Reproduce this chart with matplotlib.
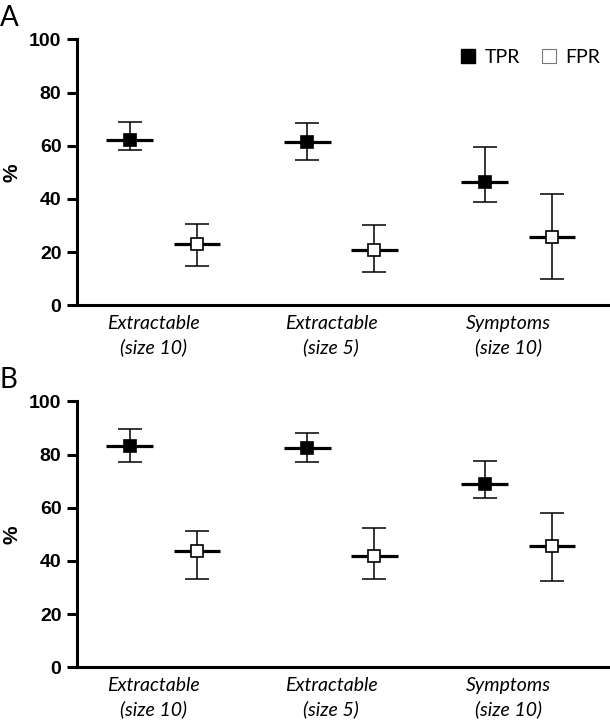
import matplotlib.pyplot as plt
from matplotlib.lines import Line2D
import numpy as np

categories = ["Extractable\n(size 10)", "Extractable\n(size 5)", "Symptoms\n(size 10)"]

# panel A
tpr_a = [62.3, 61.5, 46.5]
tpr_a_lo = [58.5, 54.8, 39.0]
tpr_a_hi = [68.9, 68.7, 59.6]
fpr_a = [22.9, 20.8, 25.6]
fpr_a_lo = [14.9, 12.4, 9.9]
fpr_a_hi = [30.5, 30.2, 41.7]

# panel B
tpr_b = [83.1, 82.6, 68.9]
tpr_b_lo = [77.3, 77.3, 63.5]
tpr_b_hi = [89.6, 88.0, 77.4]
fpr_b = [43.6, 42.0, 45.5]
fpr_b_lo = [33.1, 33.1, 32.5]
fpr_b_hi = [51.1, 52.5, 58.1]

panels = [
    ("A", tpr_a, tpr_a_lo, tpr_a_hi, fpr_a, fpr_a_lo, fpr_a_hi),
    ("B", tpr_b, tpr_b_lo, tpr_b_hi, fpr_b, fpr_b_lo, fpr_b_hi),
]

fig = plt.figure(figsize=(6.1, 7.24), dpi=100)
rects = [[0.1257, 0.5783, 0.8743, 0.3674], [0.1257, 0.0783, 0.8743, 0.3674]]
letter_y = [0.993, 0.493]

x = np.arange(len(categories))
off_tpr = -0.135
off_fpr = 0.243
half_mean = 0.132


def draw_group(ax, xs, mean, lo, hi, face):
    mean = np.array(mean)
    yerr = [mean - np.array(lo), np.array(hi) - mean]
    ax.errorbar(xs, mean, yerr=yerr, fmt="none", ecolor="black", elinewidth=1.1,
                capsize=8.5, capthick=1.1, zorder=2)
    ax.hlines(mean, xs - half_mean, xs + half_mean, color="black", lw=2.3, zorder=3)
    ax.plot(xs, mean, "s", ms=9, mfc=face, mec="black", mew=1.2, ls="none", zorder=4)


for (letter, tpr, tlo, thi, fpr, flo, fhi), r, ly in zip(panels, rects, letter_y):
    ax = fig.add_axes(r)
    draw_group(ax, x + off_tpr, tpr, tlo, thi, "black")
    draw_group(ax, x + off_fpr, fpr, flo, fhi, "white")
    ax.set_xlim(-0.435, 2.57)
    ax.set_ylim(0, 100)
    ax.set_yticks([0, 20, 40, 60, 80, 100])
    for s in ["top", "right"]:
        ax.spines[s].set_visible(False)
    ax.spines["left"].set_linewidth(2.2)
    ax.spines["bottom"].set_linewidth(2.2)
    ax.tick_params(axis="y", length=7, width=2.2, pad=4, labelsize=14)
    ax.tick_params(axis="x", length=0, pad=7)
    for lab in ax.get_yticklabels():
        lab.set_fontweight("bold")
        lab.set_family("Liberation Sans")
    ax.set_xticks(x)
    ax.set_xticklabels(categories, fontsize=14, style="italic", family="Lato",
                       linespacing=1.45)
    ax.set_ylabel("%", fontsize=15, fontweight="bold", family="Liberation Sans")
    ax.yaxis.set_label_coords(-0.103, 0.5)
    fig.text(0.0, ly, letter, fontsize=20, family="Lato", ha="left", va="top")
    if letter == "A":
        handles = [
            Line2D([], [], marker="s", ls="none", ms=10, mfc="black", mec="black"),
            Line2D([], [], marker="s", ls="none", ms=10, mfc="white", mec="#777777", mew=0.8),
        ]
        ax.legend(handles, ["TPR", "FPR"], ncol=2, frameon=False, loc="upper right",
                  bbox_to_anchor=(1.015, 1.03), prop={"family": "Lato", "size": 14},
                  handletextpad=0.35, columnspacing=1.0, handlelength=1.0)

fig.savefig("out.png", dpi=100)
